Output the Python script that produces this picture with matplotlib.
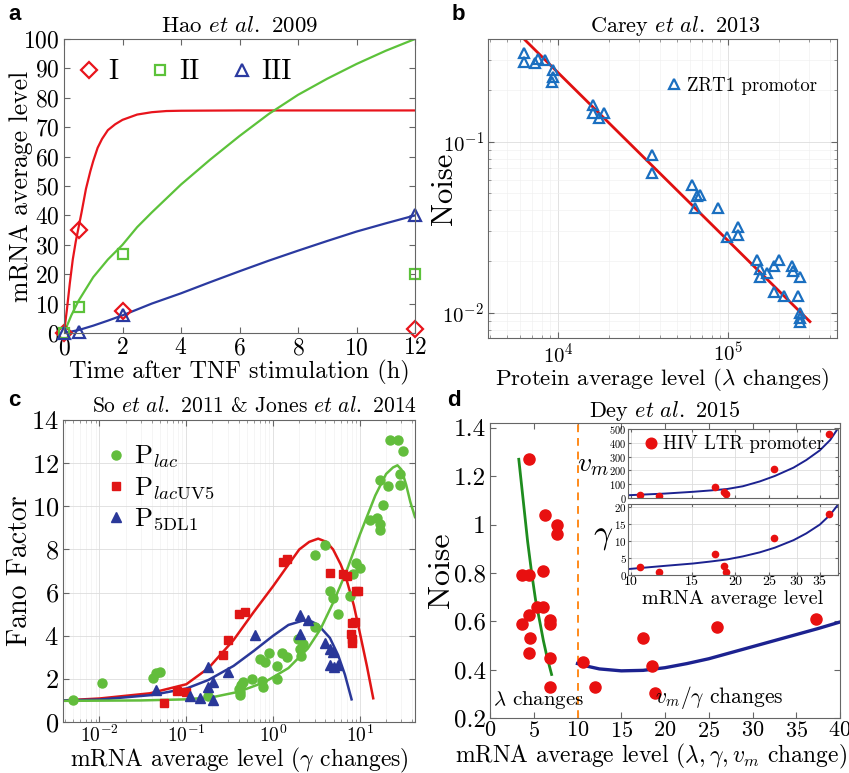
import numpy as np
import matplotlib
matplotlib.use("Agg")
import matplotlib.pyplot as plt
from matplotlib.ticker import FixedLocator, FixedFormatter, NullLocator, FuncFormatter

plt.rcParams['font.family'] = 'serif'
plt.rcParams['font.serif'] = ['cmr10']
plt.rcParams['mathtext.fontset'] = 'cm'
plt.rcParams['axes.formatter.use_mathtext'] = True
plt.rcParams['axes.unicode_minus'] = False

# ---------------- panel a: Hao et al. 2009 ----------------
a_t = [0, 0.5, 2, 12]
a_I = [0, 35, 7.5, 1.5]
a_II = [0, 9, 27, 20]
a_III = [0, 0.5, 6, 40]
a_fit_I_t = [0, 0.1, 0.2, 0.3, 0.4, 0.5, 0.6, 0.75, 0.9, 1.0, 1.15, 1.3, 1.5, 1.75, 2, 2.5, 3, 3.5, 4, 6, 12]
a_fit_I = [0, 8, 17, 25, 31, 36, 41, 49, 55, 58.5, 63, 66, 69, 71, 72.5, 74.3, 75.1, 75.5, 75.6, 75.7, 75.7]
a_fit_II_t = [0, 0.25, 0.5, 1, 1.5, 2, 2.5, 3, 4, 5, 6, 7, 8, 9, 10, 11, 12]
a_fit_II = [0, 6, 11, 19, 25, 30, 36, 41, 50.5, 59, 67, 74.5, 81, 86.5, 91.5, 96, 100]
a_fit_III_t = [0, 0.5, 1, 1.5, 2, 3, 4, 5, 6, 7, 8, 9, 10, 11, 12]
a_fit_III = [0, 1, 2.5, 4.2, 6, 10, 13.5, 17.3, 21, 24.6, 28, 31.3, 34.5, 37.3, 40]

# ---------------- panel b: Carey et al. 2013 ----------------
b_x = [6310, 6310, 7330, 7660, 8390, 9380, 9380, 9180, 16100, 16100, 17300, 18500,
       35600, 35600, 61100, 63900, 68400, 66000, 87700, 98200, 115000, 115000,
       147000, 154000, 154000, 169000, 185000, 185000, 212000, 198000, 237000,
       242000, 259000, 265000, 265000, 265000, 265000]
b_y = [0.331, 0.295, 0.288, 0.305, 0.301, 0.264, 0.241, 0.225, 0.164, 0.147, 0.138, 0.147,
       0.084, 0.0656, 0.0561, 0.041, 0.049, 0.0483, 0.041, 0.0279, 0.032, 0.0286,
       0.0204, 0.0163, 0.0182, 0.0171, 0.0133, 0.0187, 0.0125, 0.0204, 0.0187,
       0.0175, 0.0125, 0.0163, 0.00996, 0.0093, 0.0089]
b_fit_x = [6400, 303000]
b_fit_y = [0.394, 0.0089]

# ---------------- panel c: So et al. 2011 & Jones et al. 2014 ----------------
c_lac_x = [0.0049, 0.0106, 0.041, 0.045, 0.05, 0.176, 0.40, 0.42, 0.42, 0.45, 0.43,
           0.57, 0.70, 0.80, 0.90, 0.74, 0.77, 1.10, 1.26, 1.43, 1.10,
           1.95, 2.04, 2.10, 2.23, 3.03, 3.03, 3.95, 4.5, 4.9, 5.6, 7.6,
           8.4, 9.1, 9.9, 13.0, 15.6, 17.0, 17.0, 18.5, 17.0, 21.2, 22.3, 27.6, 31.5,
           28.9, 28.9]
c_lac_y = [1.0, 1.8, 2.05, 2.25, 2.3, 1.2, 1.55, 1.4, 1.25, 1.85, 1.7,
           2.0, 2.9, 2.8, 3.2, 1.9, 1.6, 2.6, 3.2, 3.0, 2.0,
           3.85, 3.4, 3.05, 3.6, 4.4, 7.75, 8.2, 6.05, 5.75, 5.0, 5.85,
           6.85, 7.35, 7.15, 9.35, 9.45, 9.2, 8.9, 10.05, 11.2, 10.95, 13.05, 13.05, 12.55,
           11.5, 11.0]
c_uv5_x = [0.055, 0.078, 0.10, 0.267, 0.305, 0.40, 0.475, 1.3, 1.45, 4.5, 6.4, 7.0,
           9.1, 9.5, 8.1, 8.8, 7.8, 8.1, 8.1]
c_uv5_y = [0.9, 1.45, 1.4, 3.1, 3.8, 5.0, 5.1, 7.4, 7.55, 6.9, 6.85, 6.75,
           6.05, 6.05, 4.6, 4.65, 4.1, 3.85, 3.65]
c_5dl1_x = [0.045, 0.11, 0.144, 0.18, 0.18, 0.205, 0.205, 0.305, 0.62, 2.04, 2.04,
            2.54, 3.95, 4.5, 4.9, 4.5, 5.0, 5.6]
c_5dl1_y = [1.5, 1.2, 1.1, 2.55, 1.6, 1.85, 1.0, 2.3, 4.05, 4.95, 4.1,
            4.75, 3.65, 3.4, 3.25, 2.65, 2.55, 2.65]
c_fit_uv5_x = [0.0038, 0.01, 0.038, 0.1, 0.18, 0.35, 0.59, 1.0, 1.5, 2.0, 2.6, 3.3, 4.1, 4.9,
               6.0, 7.0, 8.5, 10, 12, 14.2]
c_fit_uv5 = [1.0, 1.09, 1.33, 1.75, 2.5, 3.8, 5.07, 6.3, 7.3, 8.0, 8.35, 8.5, 8.35, 8.0,
             7.3, 6.6, 5.4, 4.1, 2.6, 1.1]
c_fit_5dl1_x = [0.0038, 0.01, 0.04, 0.1, 0.18, 0.35, 0.6, 1.0, 1.5, 2.2, 2.8, 3.3, 4.5, 5.6, 6.7, 8.0]
c_fit_5dl1 = [1.0, 1.04, 1.25, 1.55, 1.95, 2.6, 3.3, 4.0, 4.5, 4.7, 4.65, 4.5, 3.9, 3.1, 2.2, 1.05]
c_fit_lac_x = [0.0038, 0.03, 0.1, 0.2, 0.4, 0.8, 1.5, 2.5, 3.5, 5, 7, 10, 15, 20, 24, 27, 30, 34, 38, 43]
c_fit_lac = [0.98, 1.0, 1.05, 1.15, 1.4, 1.85, 2.5, 3.4, 4.3, 5.6, 7.0, 8.7, 10.5, 11.5, 11.8, 11.9,
             11.7, 11.0, 10.2, 9.5]

# ---------------- panel d: Dey et al. 2015 ----------------
d_x = [4.4, 6.3, 7.7, 7.7, 3.6, 4.5, 6.0, 5.4, 6.0, 4.5, 3.6, 6.9, 6.9, 4.6, 4.5, 6.9, 6.9,
       10.6, 12.0, 17.5, 18.5, 18.8, 25.9, 37.2]
d_y = [1.27, 1.04, 1.0, 0.96, 0.79, 0.79, 0.81, 0.66, 0.66, 0.625, 0.59, 0.605, 0.59,
       0.53, 0.47, 0.45, 0.327, 0.43, 0.327, 0.53, 0.417, 0.303, 0.577, 0.61]
d_lam_x = [3.29, 3.87, 4.3, 4.76, 5.2, 5.72, 6.1, 6.5, 7.04]
d_lam_y = [1.27, 1.075, 0.93, 0.80, 0.69, 0.593, 0.52, 0.455, 0.38]
d_vm_x = [10, 11, 12.5, 15, 17.5, 20, 22.5, 25, 27.5, 30, 32.5, 35, 37.5, 40]
d_vm_y = [0.425, 0.415, 0.403, 0.395, 0.397, 0.408, 0.425, 0.445, 0.47, 0.495, 0.52, 0.545, 0.57, 0.597]

ins_x = [10.6, 12.0, 17.5, 18.5, 18.8, 25.9, 37.2]
ins_vm = [20, 15, 82, 45, 28, 207, 462]
ins_gamma = [2.3, 0.9, 6.2, 2.6, 1.0, 10.8, 17.9]
ins_fit_x = [9.8, 12.5, 15.1, 17, 18.9, 21, 23.5, 26, 29.4, 32, 35, 37.5, 39.5]
ins_fit_vm = [20, 32, 45, 55, 65, 85, 120, 160, 220, 275, 345, 420, 505]
ins_fit_gamma = [1.75, 2.7, 3.4, 4.0, 4.6, 5.5, 6.7, 8.1, 10.3, 12.3, 14.9, 17.8, 20.8]

W, H = 849, 773
fig = plt.figure(figsize=(W / 100, H / 100), dpi=100)


def box(l, r, t, b):
    return [l / W, (H - b) / H, (r - l) / W, (b - t) / H]


def style(ax, grid=False, size=16):
    ax.tick_params(direction='in', top=True, right=True, labelsize=size, length=4,
                   color='#666666', pad=3)
    ax.tick_params(which='minor', direction='in', top=True, right=True, length=2, color='#888888')
    for s in ax.spines.values():
        s.set_color('#666666')
        s.set_linewidth(0.8)
    if grid:
        ax.grid(True, which='major', color='#dddddd', lw=0.6)
        ax.grid(True, which='minor', color='#eeeeee', lw=0.4)
        ax.set_axisbelow(True)


def panel_label(x, y, s):
    fig.text(x / W, 1 - y / H, s, fontsize=16, fontweight='bold',
             family='Liberation Sans', ha='left', va='center')


# ---- a ----
ax = fig.add_axes(box(64, 415, 39, 333))
red, green, blue = '#e8141c', '#5cc23a', '#2b3aa0'
ax.plot(a_fit_I_t, a_fit_I, color=red, lw=1.6)
ax.plot(a_fit_II_t, a_fit_II, color=green, lw=1.6)
ax.plot(a_fit_III_t, a_fit_III, color=blue, lw=1.6)
ax.plot(a_t, a_I, 'D', mfc='none', mec=red, mew=1.6, ms=8, ls='none', clip_on=False, label='I')
ax.plot(a_t, a_II, 's', mfc='none', mec=green, mew=1.6, ms=7, ls='none', clip_on=False, label='II')
ax.plot(a_t, a_III, '^', mfc='none', mec=blue, mew=1.6, ms=8, ls='none', clip_on=False, label='III')
ax.set_xlim(0, 12)
ax.set_ylim(0, 100)
ax.set_xticks(range(0, 13, 2))
ax.set_yticks(range(0, 101, 10))
style(ax, size=17)
ax.legend(loc='upper left', ncol=3, frameon=False, fontsize=20, handletextpad=0.2,
          columnspacing=1.0, borderaxespad=0.0, handlelength=1.0, bbox_to_anchor=(0.0, 0.97))
ax.set_xlabel('Time after TNF stimulation (h)', fontsize=17.5)
ax.xaxis.set_label_coords(0.5, -0.09)
ax.set_ylabel('mRNA average level', fontsize=18.5)
ax.yaxis.set_label_coords(-0.088, 0.5)
ax.set_title(r'Hao $et\ al.$ 2009', fontsize=16.5, pad=5)
panel_label(8, 14, 'a')

# ---- b ----
ax = fig.add_axes(box(488, 837, 39, 338))
ax.set_xscale('log')
ax.set_yscale('log')
ax.plot(b_fit_x, b_fit_y, color='#e01010', lw=2)
ax.plot(b_x, b_y, '^', mfc='none', mec='#1a6fc0', mew=1.6, ms=7, ls='none',
        label='ZRT1 promotor')
ax.set_xlim(3870, 437000)
ax.set_ylim(0.00714, 0.40)
style(ax, grid=True, size=15)
ax.tick_params(which='minor', labelleft=False, labelbottom=False)
ax.legend(loc='upper right', frameon=False, fontsize=13.5, handletextpad=0.2,
          handlelength=1.0, bbox_to_anchor=(0.99, 0.93))
ax.set_xlabel(r'Protein average level ($\lambda$ changes)', fontsize=16.5)
ax.xaxis.set_label_coords(0.5, -0.092)
ax.set_ylabel('Noise', fontsize=22)
ax.yaxis.set_label_coords(-0.086, 0.5)
ax.set_title(r'Carey $et\ al.$ 2013', fontsize=16, pad=5, x=0.537)
panel_label(452, 14, 'b')

# ---- c ----
ax = fig.add_axes(box(63, 415, 420, 722))
ax.set_xscale('log')
cg, cr, cb = '#62bd3c', '#e01515', '#2a3899'
ax.plot(c_fit_uv5_x, c_fit_uv5, color=cr, lw=1.8)
ax.plot(c_fit_5dl1_x, c_fit_5dl1, color=cb, lw=1.8)
ax.plot(c_fit_lac_x, c_fit_lac, color=cg, lw=1.8)
ax.plot(c_lac_x, c_lac_y, 'o', color=cg, ms=6.5, ls='none', label=r'P$_{lac}$')
ax.plot(c_uv5_x, c_uv5_y, 's', color=cr, ms=5.5, ls='none', label=r'P$_{lac\mathrm{UV5}}$')
ax.plot(c_5dl1_x, c_5dl1_y, '^', color=cb, ms=7, ls='none', label=r'P$_{\mathrm{5DL1}}$')
ax.set_xlim(0.0038, 43)
ax.set_ylim(0, 14)
ax.set_yticks(range(0, 15, 2))
style(ax, grid=True, size=14)
ax.tick_params(axis='x', pad=2)
ax.tick_params(axis='y', labelsize=19)
ax.tick_params(which='minor', labelbottom=False)
ax.legend(loc='upper left', frameon=False, fontsize=19, handletextpad=0.2,
          handlelength=1.0, labelspacing=0.2, bbox_to_anchor=(0.045, 1.0))
ax.set_xlabel(r'mRNA average level ($\gamma$ changes)', fontsize=17)
ax.xaxis.set_label_coords(0.5, -0.078)
ax.set_ylabel('Fano Factor', fontsize=20)
ax.yaxis.set_label_coords(-0.085, 0.5)
ax.text(0.545, 1.012, r'So $et\ al.$ 2011 & Jones $et\ al.$ 2014', transform=ax.transAxes,
        fontsize=15.5, ha='center', va='bottom')
panel_label(8, 400, 'c')

# ---- d ----
ax = fig.add_axes(box(490, 840, 423, 718))
ax.axvline(10, color='#ff8a1a', lw=1.4, ls=(0, (4, 3)))
ax.plot(d_lam_x, d_lam_y, color='#1e8c1e', lw=2)
ax.plot(d_vm_x, d_vm_y, color='#1c2290', lw=2.4)
ax.plot(d_x, d_y, 'o', color='#e81010', ms=8, ls='none')
ax.set_xlim(0, 40)
ax.set_ylim(0.2, 1.42)
ax.set_xticks(range(0, 41, 5))
ax.set_yticks([0.2, 0.4, 0.6, 0.8, 1.0, 1.2, 1.4])
ax.yaxis.set_major_formatter(FuncFormatter(lambda v, p: '%g' % round(v, 2)))
style(ax, grid=False, size=18)
ax.tick_params(axis='x', labelsize=16, pad=2)
ax.text(0.3, 0.23, r'$\lambda$ changes', fontsize=15, ha='left', va='bottom')
ax.text(26.2, 0.23, r'$v_m/\gamma$ changes', fontsize=15.5, ha='center', va='bottom')
ax.set_xlabel(r'mRNA average level ($\lambda,\gamma,v_m$ change)', fontsize=17)
ax.xaxis.set_label_coords(0.46, -0.082)
ax.set_ylabel('Noise', fontsize=23)
ax.yaxis.set_label_coords(-0.1, 0.5)
ax.set_title(r'Dey $et\ al.$ 2015', fontsize=16, pad=4)
panel_label(447, 401, 'd')

# inset upper (v_m)
ia = fig.add_axes(box(628, 838, 429, 498))
ia.set_xscale('log')
ia.plot(ins_fit_x, ins_fit_vm, color='#1c2290', lw=1.4)
ia.plot(ins_x, ins_vm, 'o', color='#e81010', ms=4.5, ls='none', label='HIV LTR promoter')
ia.set_xlim(9.8, 39.5)
ia.set_ylim(0, 500)
ia.set_yticks(range(0, 501, 100))
ia.xaxis.set_major_locator(FixedLocator([10, 15, 20, 25, 30, 35]))
ia.xaxis.set_minor_locator(NullLocator())
ia.set_xticklabels([])
style(ia, grid=True)
ia.tick_params(labelsize=7.5, length=2, pad=1)
ia.legend(loc='upper left', frameon=False, fontsize=13.5, handletextpad=0.2, handlelength=0.8,
          borderaxespad=0.0, markerscale=1.7, bbox_to_anchor=(0.04, 1.02))
fig.text(593 / W, 1 - 465 / H, r'$v_m$', fontsize=20, ha='center', va='center')

# inset lower (gamma)
ib = fig.add_axes(box(628, 838, 504, 575))
ib.set_xscale('log')
ib.plot(ins_fit_x, ins_fit_gamma, color='#1c2290', lw=1.4)
ib.plot(ins_x, ins_gamma, 'o', color='#e81010', ms=4.5, ls='none')
ib.set_xlim(9.8, 39.5)
ib.set_ylim(0, 21)
ib.set_yticks([0, 5, 10, 15, 20])
ib.xaxis.set_major_locator(FixedLocator([10, 15, 20, 25, 30, 35]))
ib.xaxis.set_major_formatter(FixedFormatter(['10', '15', '20', '25', '30', '35']))
ib.xaxis.set_minor_locator(NullLocator())
style(ib, grid=True)
ib.tick_params(labelsize=10, length=2, pad=1)
ib.tick_params(axis='y', labelsize=8)
ib.set_xlabel('mRNA average level', fontsize=14.5, labelpad=1)
fig.text(603 / W, 1 - 537 / H, r'$\gamma$', fontsize=24, ha='center', va='center')

fig.savefig('out.png', dpi=100, facecolor='white')
